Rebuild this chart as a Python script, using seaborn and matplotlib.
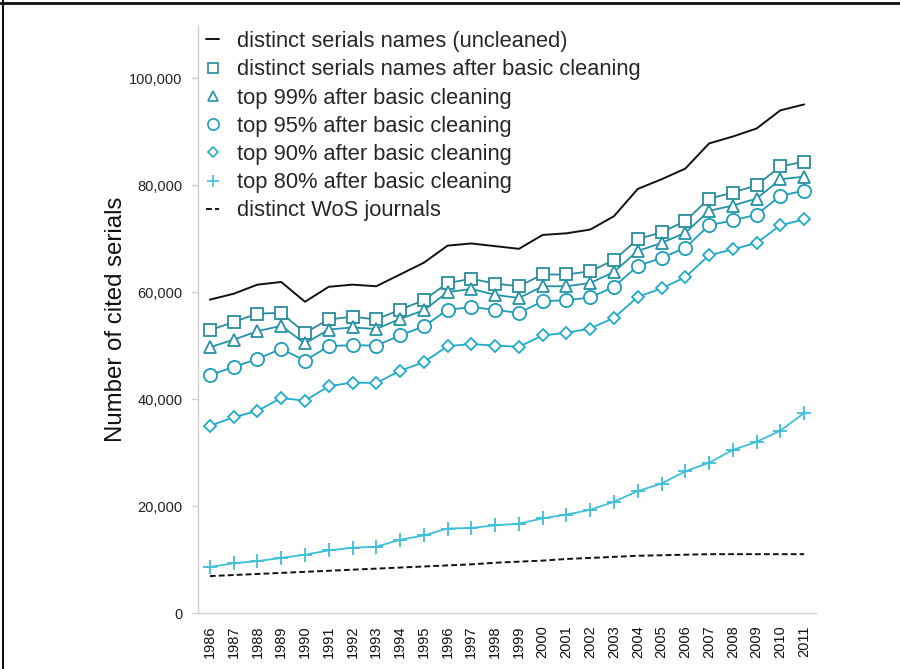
import numpy as np
import pandas as pd
import matplotlib
matplotlib.use("Agg")
import matplotlib.pyplot as plt
import seaborn as sns
from matplotlib.lines import Line2D
from matplotlib.ticker import FuncFormatter, FixedLocator

# Данные
years = list(range(1986, 2012))
uncleaned = [58600, 59700, 61400, 61900, 58200, 61000, 61400, 61100, 63300, 65500,
             68700, 69100, 68600, 68100, 70700, 71000, 71700, 74200, 79300, 81100,
             83100, 87800, 89100, 90600, 94000, 95100]
basic_clean = [52900, 54400, 56000, 56100, 52400, 54900, 55400, 54900, 56700, 58500,
               61700, 62500, 61600, 61100, 63300, 63300, 63900, 66000, 69900, 71200,
               73300, 77500, 78600, 80000, 83500, 84400]
top99 = [49700, 51100, 52700, 53700, 50400, 53000, 53400, 53100, 55000, 56600,
         60000, 60600, 59500, 58900, 61100, 61100, 61700, 63800, 67700, 69200,
         71100, 75200, 76200, 77500, 81100, 81600]
top95 = [44500, 46000, 47500, 49400, 47200, 49900, 50100, 50000, 51900, 53600,
         56700, 57200, 56700, 56100, 58300, 58500, 59000, 61000, 64900, 66400,
         68300, 72500, 73400, 74500, 78000, 79000]
top90 = [35000, 36600, 37800, 40200, 39700, 42400, 43100, 43000, 45300, 46900,
         49900, 50300, 50000, 49800, 51900, 52400, 53200, 55200, 59100, 60700,
         62800, 66900, 68000, 69200, 72500, 73600]
top80 = [8600, 9300, 9700, 10300, 10900, 11700, 12200, 12400, 13700, 14500,
         15800, 15900, 16400, 16700, 17700, 18400, 19300, 20800, 22800, 24200,
         26500, 28100, 30500, 32000, 34100, 37400]
wos = [6900, 7100, 7300, 7500, 7700, 7900, 8100, 8300, 8500, 8700,
       8900, 9100, 9400, 9600, 9800, 10100, 10300, 10500, 10700, 10800,
       10900, 11000, 11000, 11000, 11000, 11000]

labels = [
    "distinct serials names (uncleaned)",
    "distinct serials names after basic cleaning",
    "top 99% after basic cleaning",
    "top 95% after basic cleaning",
    "top 90% after basic cleaning",
    "top 80% after basic cleaning",
    "distinct WoS journals",
]

sns.set_style("white")
plt.rcParams['font.family'] = ['Liberation Sans', 'DejaVu Sans']

fig = plt.figure(figsize=(9, 6.69), dpi=100)
ax = fig.add_axes([0.22, 0.0837, 0.6867, 0.8793])

pos = np.arange(len(years))

# (значения, цвет, маркер, размер, стиль линии)
series = [
    (uncleaned, "#111111", None, 0, "-"),
    (basic_clean, "#2a8c9b", "s", 9, "-"),
    (top99, "#2492a6", "^", 9, "-"),
    (top95, "#1e9dba", "o", 9.5, "-"),
    (top90, "#20abc8", "D", 6.5, "-"),
    (top80, "#3dbfd8", "+", 9.5, "-"),
    (wos, "#111111", None, 0, (0, (3, 1.6))),
]

handles = []
for (vals, col, mk, ms, ls), lab in zip(series, labels):
    sns.lineplot(x=pos, y=vals, ax=ax, color=col, linestyle=ls,
                 linewidth=1.4 if mk is None else 1.3,
                 marker=mk, markersize=ms, markerfacecolor="white",
                 markeredgecolor=col, markeredgewidth=1.3)
    if mk is None:
        handles.append(Line2D([], [], color=col, linestyle=ls, linewidth=1.4))
    else:
        handles.append(Line2D([], [], color=col, linestyle="none", marker=mk,
                              markersize=ms * 0.85, markerfacecolor="white",
                              markeredgecolor=col, markeredgewidth=1.2))

ax.set_xlim(-0.5, len(years) - 0.5)
ax.set_ylim(0, 110000)

ax.set_xticks(pos)
ax.set_xticklabels([str(y) for y in years], rotation=90)
ax.xaxis.set_minor_locator(FixedLocator(np.arange(-0.5, len(years), 1)))
ax.tick_params(axis="x", which="major", length=0, pad=9, labelsize=10.5, labelcolor="#111111")
ax.tick_params(axis="x", which="minor", length=5, color="#d0d0d0", width=1, direction="out")

ax.set_yticks([0, 20000, 40000, 60000, 80000, 100000])
ax.yaxis.set_major_formatter(FuncFormatter(lambda v, p: f"{v:,.0f}"))
ax.tick_params(axis="y", length=5, color="#d0d0d0", width=1, pad=6,
               labelsize=10.5, labelcolor="#222222", left=True)

for s in ["top", "right"]:
    ax.spines[s].set_visible(False)
for s in ["left", "bottom"]:
    ax.spines[s].set_color("#d0d0d0")
    ax.spines[s].set_linewidth(1)

ax.set_xlabel("")
ax.set_ylabel("Number of cited serials", fontsize=17.3, labelpad=2, color="#111111")

leg = ax.legend(handles, labels, loc="upper left", bbox_to_anchor=(0.229, 0.9535),
                bbox_transform=fig.transFigure, frameon=False, fontsize=15.75,
                handlelength=0.6, handletextpad=0.8, labelspacing=0.33,
                borderaxespad=0, borderpad=0)

# рамка вокруг рисунка
fig.add_artist(Line2D([0, 1], [0.996, 0.996], transform=fig.transFigure, color="#111111", linewidth=2))
fig.add_artist(Line2D([0.003, 0.003], [0, 1], transform=fig.transFigure, color="#111111", linewidth=1.5))

fig.savefig("out.png", dpi=100)
